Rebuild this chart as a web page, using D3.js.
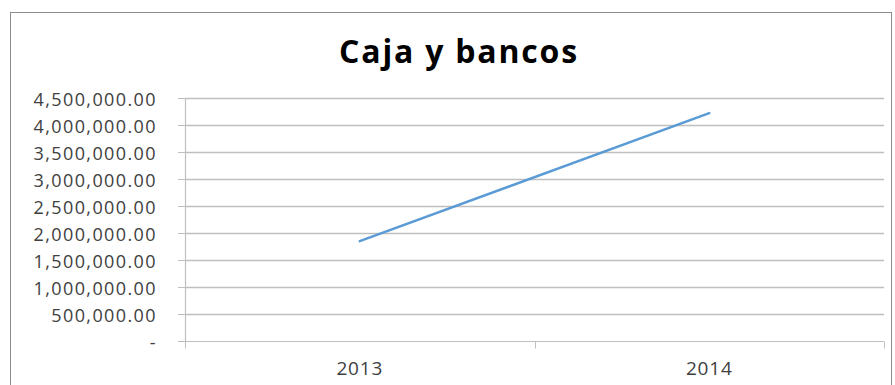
<!DOCTYPE html>
<html>
<head>
<meta charset="utf-8">
<script src="https://cdn.jsdelivr.net/npm/d3@7"></script>
<style>
  body { margin: 0; background: #fff; }
  svg { display: block; }
  text { font-family: "Open Sans", sans-serif; }
</style>
</head>
<body>
<svg width="895" height="385"></svg>
<script>
var years = ["2013", "2014"];
var cajaBancos = [1850000, 4220000];
var yTicks = [0, 500000, 1000000, 1500000, 2000000, 2500000, 3000000, 3500000, 4000000, 4500000];

var svg = d3.select("svg"),
    width = +svg.attr("width"),
    height = +svg.attr("height");

var margin = {top: 98, right: 11, bottom: 44, left: 185};

// chart frame
svg.append("rect")
    .attr("x", 10.5).attr("y", 12.5)
    .attr("width", width - 14).attr("height", height)
    .attr("fill", "#fff").attr("stroke", "#8c8c8c");

svg.append("text")
    .attr("x", 459).attr("y", 63)
    .attr("text-anchor", "middle")
    .style("font-size", "32px").style("font-weight", "bold")
    .style("letter-spacing", "1.8px")
    .attr("fill", "#000")
    .text("Caja y bancos");

var x = d3.scaleBand()
    .domain(years)
    .range([margin.left, width - margin.right]);

var y = d3.scaleLinear()
    .domain([0, 4500000])
    .range([height - margin.bottom, margin.top]);

var fmt = d3.format(",.2f");

var yAxis = svg.append("g")
    .attr("transform", "translate(" + margin.left + ",0)")
    .call(d3.axisLeft(y).tickValues(yTicks)
      .tickSize(7).tickPadding(21)
      .tickFormat(function(d) { return d === 0 ? "-" : fmt(d); }));

yAxis.select(".domain").remove();
yAxis.selectAll("line").attr("stroke", "#bfbfbf");
yAxis.selectAll("text")
    .attr("fill", "#404040")
    .attr("dy", "0.4em")
    .style("font-size", "18px")
    .style("letter-spacing", "1.4px")
    .style("font-family", "'Open Sans', sans-serif");

// gridlines
svg.append("g").selectAll("line")
    .data(yTicks.slice(1))
    .enter().append("line")
      .attr("x1", margin.left).attr("x2", width - margin.right)
      .attr("y1", function(d) { return Math.round(y(d)) + 0.5; })
      .attr("y2", function(d) { return Math.round(y(d)) + 0.5; })
      .attr("stroke", "#bfbfbf").attr("stroke-width", 1.5);

// y axis line
svg.append("line")
    .attr("x1", margin.left + 0.5).attr("x2", margin.left + 0.5)
    .attr("y1", margin.top).attr("y2", y(0))
    .attr("stroke", "#bfbfbf").attr("stroke-width", 1.2);

// x axis with boundary ticks
var xAxis = svg.append("g")
    .attr("transform", "translate(0," + (Math.round(y(0)) + 0.5) + ")");

xAxis.append("line")
    .attr("x1", margin.left).attr("x2", width - margin.right)
    .attr("stroke", "#bfbfbf").attr("stroke-width", 1.2);

var bounds = [margin.left].concat(years.map(function(d) { return x(d) + x.bandwidth(); }));
xAxis.selectAll(".bt")
    .data(bounds)
    .enter().append("line")
      .attr("class", "bt")
      .attr("x1", function(d) { return Math.round(d) + 0.5; })
      .attr("x2", function(d) { return Math.round(d) + 0.5; })
      .attr("y1", 0).attr("y2", 7)
      .attr("stroke", "#bfbfbf");

xAxis.selectAll(".lbl")
    .data(years)
    .enter().append("text")
      .attr("class", "lbl")
      .attr("x", function(d) { return x(d) + x.bandwidth() / 2; })
      .attr("y", 33)
      .attr("text-anchor", "middle")
      .attr("fill", "#404040")
      .style("font-size", "19px")
      .style("letter-spacing", "0.8px")
      .text(function(d) { return d; });

var line = d3.line()
    .x(function(d, i) { return x(years[i]) + x.bandwidth() / 2; })
    .y(function(d) { return y(d); });

svg.append("path")
    .datum(cajaBancos)
    .attr("d", line)
    .attr("fill", "none")
    .attr("stroke", "#5b9bd5")
    .attr("stroke-width", 2.5)
    .attr("stroke-linecap", "round");
</script>
</body>
</html>
